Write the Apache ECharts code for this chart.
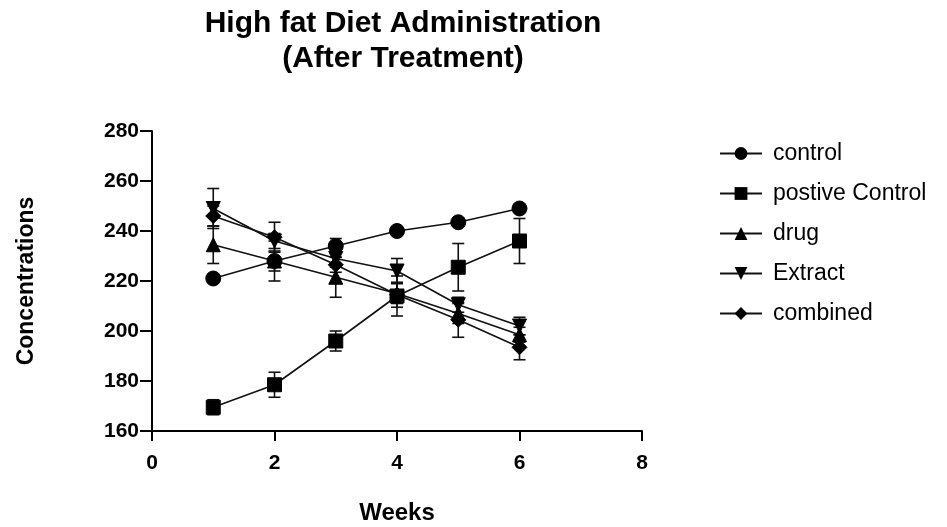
<!DOCTYPE html>
<html>
<head>
<meta charset="utf-8">
<script src="https://cdn.jsdelivr.net/npm/echarts@6/dist/echarts.min.js"></script>
<style>
html,body{margin:0;padding:0;background:#fff;}
#chart{width:947px;height:527px;}
</style>
</head>
<body>
<div id="chart"></div>
<script>
const weeks = [1, 2, 3, 4, 5, 6];
const seriesNames = ["control", "postive Control", "drug", "Extract", "combined"];
const controlMean = [221, 228, 234, 240, 243.5, 249];
const controlErr = [1.5, 4, 3, 1.5, 1.5, 1.5];
const positiveMean = [169.5, 178.5, 196, 214, 225.5, 236];
const positiveErr = [3, 5, 4, 8, 9.5, 9];
const drugMean = [234.5, 228, 221.5, 215, 207, 198.5];
const drugErr = [7.5, 8, 8, 4, 4, 3];
const extractMean = [249, 236, 229, 224, 210.5, 202];
const extractErr = [8, 3, 3.5, 5, 3, 3.5];
const combinedMean = [246, 237.5, 226.5, 214.5, 204.5, 193.5];
const combinedErr = [4, 6, 3, 5, 7, 5];

const means = [controlMean, positiveMean, drugMean, extractMean, combinedMean];
const errs = [controlErr, positiveErr, drugErr, extractErr, combinedErr];
const symbols = ['circle', 'rect', 'triangle', 'path://M0,0 L10,0 L5,9 Z', 'diamond'];
const symbolSizes = [15, 14, 14, 14, 15];

const FONT = "Liberation Sans, Arial, sans-serif";

function errorRender(params, api) {
  const x = api.value(0);
  const lo = api.coord([x, api.value(1)]);
  const hi = api.coord([x, api.value(2)]);
  const w = 6;
  const st = { stroke: '#111', lineWidth: 1.6 };
  return {
    type: 'group',
    children: [
      { type: 'line', shape: { x1: lo[0], y1: lo[1], x2: hi[0], y2: hi[1] }, style: st },
      { type: 'line', shape: { x1: lo[0] - w, y1: lo[1], x2: lo[0] + w, y2: lo[1] }, style: st },
      { type: 'line', shape: { x1: hi[0] - w, y1: hi[1], x2: hi[0] + w, y2: hi[1] }, style: st }
    ]
  };
}

const series = [];
seriesNames.forEach((name, i) => {
  series.push({
    name: name + '_err',
    type: 'custom',
    renderItem: errorRender,
    data: weeks.map((w, k) => [w, means[i][k] - errs[i][k], means[i][k] + errs[i][k]]),
    z: 1,
    silent: true
  });
});
seriesNames.forEach((name, i) => {
  series.push({
    name: name,
    type: 'line',
    data: weeks.map((w, k) => [w, means[i][k]]),
    symbol: symbols[i],
    symbolSize: symbolSizes[i],
    showAllSymbol: true,
    lineStyle: { color: '#111', width: 1.6 },
    itemStyle: { color: '#000', borderColor: '#000' },
    z: 3
  });
});

const chart = echarts.init(document.getElementById('chart'), null, { renderer: 'canvas' });
chart.setOption({
  animation: false,
  backgroundColor: '#fff',
  title: {
    text: 'High fat Diet Administration\n(After Treatment)',
    left: 398,
    textAlign: 'center',
    top: 1,
    textStyle: { fontFamily: FONT, fontWeight: 'bold', fontSize: 30, color: '#000', lineHeight: 35 }
  },
  legend: {
    data: seriesNames,
    orient: 'vertical',
    left: 714,
    top: 137,
    itemWidth: 42,
    itemHeight: 16,
    itemGap: 17,
    textStyle: { fontFamily: FONT, fontSize: 23, color: '#000', padding: [0, 0, 0, 6] },
    inactiveColor: '#000'
  },
  grid: { left: 152, top: 131, width: 490, height: 300, containLabel: false, outerBoundsMode: 'none' },
  xAxis: {
    type: 'value',
    min: 0, max: 8, interval: 2,
    name: 'Weeks',
    nameLocation: 'middle',
    nameGap: 70,
    nameTextStyle: { fontFamily: FONT, fontWeight: 'bold', fontSize: 24, color: '#000' },
    axisLine: { lineStyle: { color: '#000', width: 2 } },
    axisTick: { length: 10, lineStyle: { color: '#000', width: 2 } },
    axisLabel: { fontFamily: FONT, fontWeight: 'bold', fontSize: 21, color: '#000', margin: 22 },
    splitLine: { show: false }
  },
  yAxis: {
    type: 'value',
    min: 160, max: 280, interval: 20,
    name: 'Concentrations',
    nameLocation: 'middle',
    nameGap: 114,
    nameTextStyle: { fontFamily: FONT, fontWeight: 'bold', fontSize: 23, color: '#000' },
    axisLine: { show: true, lineStyle: { color: '#000', width: 2 } },
    axisTick: { show: true, length: 12, lineStyle: { color: '#000', width: 2 } },
    axisLabel: { fontFamily: FONT, fontWeight: 'bold', fontSize: 21, color: '#000', margin: 13 },
    splitLine: { show: false }
  },
  series: series
});
</script>
</body>
</html>
